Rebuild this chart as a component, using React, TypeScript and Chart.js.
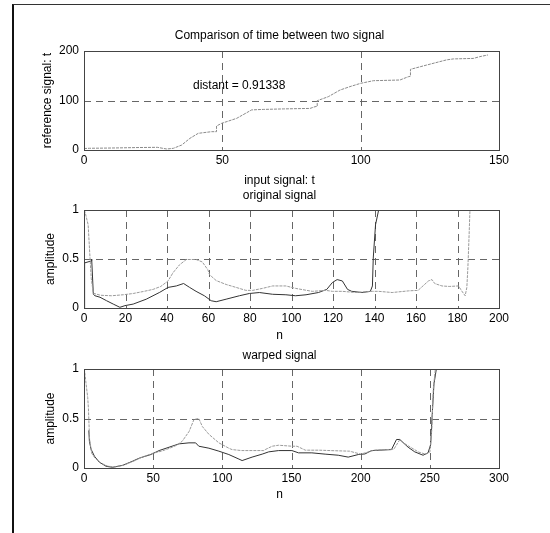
import React, { useEffect, useRef } from 'react';
import { Chart, registerables } from 'chart.js';
Chart.register(...registerables);

const FONT = '"Liberation Sans", Arial, Helvetica, sans-serif';

// ---- Plot 1: warping path ----
const warpPathX = [0, 2, 10, 20, 26.5, 29.9, 32.3, 35.3, 38.3, 41.3, 46.1, 47.9, 47.9, 49.8, 55.2, 60.6, 64.8, 72, 81.7, 83.5, 84.3, 84.3, 88.3, 92.5, 96.1, 100, 104.6, 114.2, 117.2, 118, 118, 123.9, 131, 133.5, 140.7, 143, 146];
const warpPathY = [3, 3.5, 4, 5, 5.4, 2, 3.4, 10, 23.6, 33.7, 37, 37, 48.5, 54, 64, 81, 82, 83, 84, 87.5, 88, 99.6, 107.7, 121, 128, 134.7, 140, 141.4, 148, 149, 163, 171.7, 182, 184, 185, 188.5, 192];
const distantText = 'distant = 0.91338';
const distantAt = { x: 39.4, y: 129 };

// ---- Plot 2: original signals ----
const origAX = [0, 0.3, 3.5, 3.7, 4.5, 5.3, 7.7, 10.9, 14.1, 17.3, 19.7, 23.7, 30, 36.5, 40.5, 44.5, 48, 50.9, 54, 58, 61.3, 63.7, 68.5, 74.9, 79.7, 84.5, 90.9, 97.3, 102, 107, 113, 117, 119.7, 122, 124.5, 127, 129, 134, 138, 139, 139.4, 140.5, 142, 200];
const origAY = [0, 0.46, 0.48, 0.5, 0.14, 0.125, 0.11, 0.074, 0.04, 0.007, 0.024, 0.04, 0.09, 0.16, 0.21, 0.225, 0.25, 0.21, 0.17, 0.125, 0.074, 0.064, 0.09, 0.125, 0.148, 0.158, 0.14, 0.135, 0.125, 0.135, 0.158, 0.19, 0.26, 0.29, 0.276, 0.19, 0.17, 0.158, 0.17, 0.225, 0.51, 0.85, 1, 1];
const origBX = [0, 0.5, 2, 2.9, 3.5, 4.5, 8, 13.3, 18.9, 23.7, 28.5, 33.3, 37, 40.5, 42.9, 46, 49.3, 54, 57, 59.7, 60.5, 63.7, 68.5, 73.3, 78, 81.3, 86, 90.9, 97.3, 102, 110, 116.5, 119.7, 124.5, 131, 139, 142, 148.5, 156.5, 161, 166, 167.7, 169, 172.5, 176, 180.5, 182, 183.7, 184.5, 185, 185.6, 186, 200];
const origBY = [1, 0.98, 0.85, 0.51, 0.3, 0.15, 0.13, 0.125, 0.135, 0.148, 0.168, 0.19, 0.22, 0.276, 0.36, 0.44, 0.495, 0.495, 0.47, 0.39, 0.34, 0.28, 0.24, 0.21, 0.18, 0.18, 0.2, 0.225, 0.225, 0.2, 0.17, 0.18, 0.17, 0.17, 0.158, 0.17, 0.17, 0.158, 0.175, 0.18, 0.276, 0.29, 0.25, 0.225, 0.22, 0.225, 0.175, 0.125, 0.21, 0.41, 0.75, 1, 1];

// ---- Plot 3: warped signals ----
const warpAX = [3.5, 3.9, 5.1, 7.5, 11, 16, 20.7, 28, 35, 40, 44.7, 48.3, 54.3, 61.5, 68.7, 75.9, 80.7, 83, 90.3, 97.5, 104.7, 112, 114.3, 121.5, 128.8, 133.5, 140.7, 150.3, 155.1, 164.7, 174.3, 183.8, 191, 198.3, 203.1, 207.9, 222.3, 225.9, 228.3, 234.3, 239.1, 245.1, 248.7, 250.6, 251.6, 253, 254.7, 300];
const warpAY = [0.38, 0.27, 0.19, 0.12, 0.06, 0.017, 0.007, 0.027, 0.068, 0.1, 0.12, 0.136, 0.176, 0.21, 0.244, 0.254, 0.254, 0.22, 0.2, 0.17, 0.136, 0.09, 0.075, 0.11, 0.14, 0.163, 0.176, 0.176, 0.153, 0.153, 0.14, 0.129, 0.11, 0.136, 0.142, 0.176, 0.186, 0.288, 0.288, 0.21, 0.163, 0.129, 0.153, 0.237, 0.51, 0.85, 1, 1];
const warpBX = [0, 0.3, 1.5, 2.7, 3.2, 4, 5.5, 8, 12, 17, 22, 29, 36, 42, 46, 50, 56, 62, 67, 71, 76, 79.5, 83, 85.5, 90.3, 97.5, 104.7, 107, 114, 130, 131, 136, 140.7, 150.3, 154, 160, 170, 180, 192, 200, 210, 224, 228, 236, 242, 247, 250, 251.5, 252.5, 254, 300];
const warpBY = [1, 1, 0.85, 0.71, 0.6, 0.3, 0.15, 0.1, 0.05, 0.02, 0.01, 0.03, 0.07, 0.11, 0.13, 0.15, 0.17, 0.2, 0.23, 0.27, 0.37, 0.49, 0.5, 0.42, 0.34, 0.254, 0.2, 0.186, 0.176, 0.176, 0.186, 0.22, 0.23, 0.22, 0.22, 0.18, 0.18, 0.175, 0.17, 0.14, 0.18, 0.19, 0.28, 0.21, 0.16, 0.14, 0.16, 0.4, 0.8, 1, 1];

const toPts = (xs: number[], ys: number[]) => xs.map((x, i) => ({ x, y: ys[i] }));

const boxGridPlugin = {
  id: 'boxGrid',
  beforeDatasetsDraw(chart: any) {
    const { ctx, chartArea: a, scales } = chart;
    ctx.save();
    ctx.strokeStyle = '#666';
    ctx.lineWidth = 1;
    ctx.setLineDash([7, 5]);
    const xs = scales.x, ys = scales.y;
    xs.ticks.forEach((t: any) => {
      if (t.value === xs.min || t.value === xs.max) return;
      const px = Math.round(xs.getPixelForValue(t.value)) + 0.5;
      ctx.beginPath(); ctx.moveTo(px, a.top); ctx.lineTo(px, a.bottom); ctx.stroke();
    });
    ys.ticks.forEach((t: any) => {
      if (t.value === ys.min || t.value === ys.max) return;
      const py = Math.round(ys.getPixelForValue(t.value)) + 0.5;
      ctx.beginPath(); ctx.moveTo(a.left, py); ctx.lineTo(a.right, py); ctx.stroke();
    });
    ctx.restore();
  },
  afterDraw(chart: any) {
    const { ctx, chartArea: a } = chart;
    ctx.save();
    ctx.strokeStyle = '#444';
    ctx.lineWidth = 1;
    ctx.setLineDash([]);
    ctx.strokeRect(Math.round(a.left) + 0.5, Math.round(a.top) + 0.5, Math.round(a.right - a.left), Math.round(a.bottom - a.top));
    const lab = chart.options.plugins.labels || {};
    ctx.fillStyle = '#000';
    ctx.font = `12px ${FONT}`;
    ctx.textBaseline = 'middle';
    const cx = (a.left + a.right) / 2 - 12;
    ctx.textAlign = 'center';
    if (lab.title) ctx.fillText(lab.title, cx, a.top - lab.titleGap);
    if (lab.xTitle) ctx.fillText(lab.xTitle, cx, a.bottom + lab.xTitleGap);
    const note = lab.note;
    if (note && note.text) {
      ctx.textAlign = 'left';
      ctx.fillText(note.text, chart.scales.x.getPixelForValue(note.x), chart.scales.y.getPixelForValue(note.y));
    }
    ctx.restore();
  },
};

type Cfg = {
  datasets: any[];
  xMax: number; xStep: number; yMax: number; yStep: number;
  title: string; topPad: number; titleGap: number;
  xTitle: string; xTitleGap: number; xAxisHeight: number;
  yTitle: string; yTitlePadTop: number;
  note?: any;
};

function makeConfig(c: Cfg): any {
  const font = { family: FONT, size: 12, weight: 'normal' as const };
  return {
    type: 'line',
    data: { datasets: c.datasets },
    plugins: [boxGridPlugin],
    options: {
      responsive: false,
      animation: false,
      devicePixelRatio: 1,
      layout: { padding: { left: 0, right: 51, top: c.topPad, bottom: 0 } },
      elements: { point: { radius: 0 }, line: { tension: 0 } },
      plugins: {
        legend: { display: false },
        tooltip: { enabled: false },
        title: { display: false },
        labels: { title: c.title, titleGap: c.titleGap, xTitle: c.xTitle, xTitleGap: c.xTitleGap, note: c.note },
      },
      scales: {
        x: {
          type: 'linear', min: 0, max: c.xMax,
          grid: { display: false, drawTicks: false },
          border: { display: false },
          ticks: { stepSize: c.xStep, color: '#000', font, padding: 3, maxRotation: 0, autoSkip: false, callback: (v: any) => String(v) },
          afterFit: (s: any) => { s.height = c.xAxisHeight; },
        },
        y: {
          type: 'linear', min: 0, max: c.yMax,
          grid: { display: false, drawTicks: false },
          border: { display: false },
          ticks: { stepSize: c.yStep, color: '#000', font, padding: 5, callback: (v: any) => String(v) },
          title: { display: true, text: c.yTitle, color: '#000', font, padding: { top: c.yTitlePadTop, bottom: 0 } },
          afterFit: (s: any) => { s.width = 84; },
        },
      },
    },
  };
}

const lineDs = (data: any[], color: string, dash: number[] = []) => ({
  data, borderColor: color, borderWidth: 1, borderDash: dash, pointRadius: 0, fill: false, tension: 0,
});

export default function App() {
  const r1 = useRef<HTMLCanvasElement>(null);
  const r2 = useRef<HTMLCanvasElement>(null);
  const r3 = useRef<HTMLCanvasElement>(null);

  useEffect(() => {
    const c1 = new Chart(r1.current as HTMLCanvasElement, makeConfig({
      datasets: [lineDs(toPts(warpPathX, warpPathY), '#8a8a8a', [3, 1])],
      xMax: 150, xStep: 50, yMax: 200, yStep: 100,
      title: 'Comparison of time between two signal', topPad: 51, titleGap: 15,
      xTitle: 'input signal: t', xTitleGap: 31, xAxisHeight: 40,
      yTitle: 'reference signal: t', yTitlePadTop: 40,
      note: { text: distantText, x: distantAt.x, y: distantAt.y },
    }));
    const c2 = new Chart(r2.current as HTMLCanvasElement, makeConfig({
      datasets: [lineDs(toPts(origBX, origBY), '#9a9a9a', [3, 1]), lineDs(toPts(origAX, origAY), '#333333')],
      xMax: 200, xStep: 20, yMax: 1, yStep: 0.5,
      title: 'original signal', topPad: 30, titleGap: 14,
      xTitle: 'n', xTitleGap: 28, xAxisHeight: 37,
      yTitle: 'amplitude', yTitlePadTop: 43,
    }));
    const c3 = new Chart(r3.current as HTMLCanvasElement, makeConfig({
      datasets: [lineDs(toPts(warpBX, warpBY), '#9a9a9a', [3, 1]), lineDs(toPts(warpAX, warpAY), '#333333')],
      xMax: 300, xStep: 50, yMax: 1, yStep: 0.5,
      title: 'warped signal', topPad: 29, titleGap: 13,
      xTitle: 'n', xTitleGap: 27, xAxisHeight: 36,
      yTitle: 'amplitude', yTitlePadTop: 43,
    }));
    return () => { c1.destroy(); c2.destroy(); c3.destroy(); };
  }, []);

  return (
    <div style={{ position: 'fixed', left: 0, top: 0, width: 550, height: 533, background: '#fff', overflow: 'hidden' }}>
      <div style={{ position: 'absolute', left: 12, top: 4, width: 560, height: 560, borderLeft: '2px solid #111', borderTop: '1px solid #333' }} />
      <canvas ref={r1} width={550} height={190} style={{ position: 'absolute', left: 0, top: 0 }} />
      <canvas ref={r2} width={550} height={165} style={{ position: 'absolute', left: 0, top: 180 }} />
      <canvas ref={r3} width={550} height={164} style={{ position: 'absolute', left: 0, top: 340 }} />
    </div>
  );
}
